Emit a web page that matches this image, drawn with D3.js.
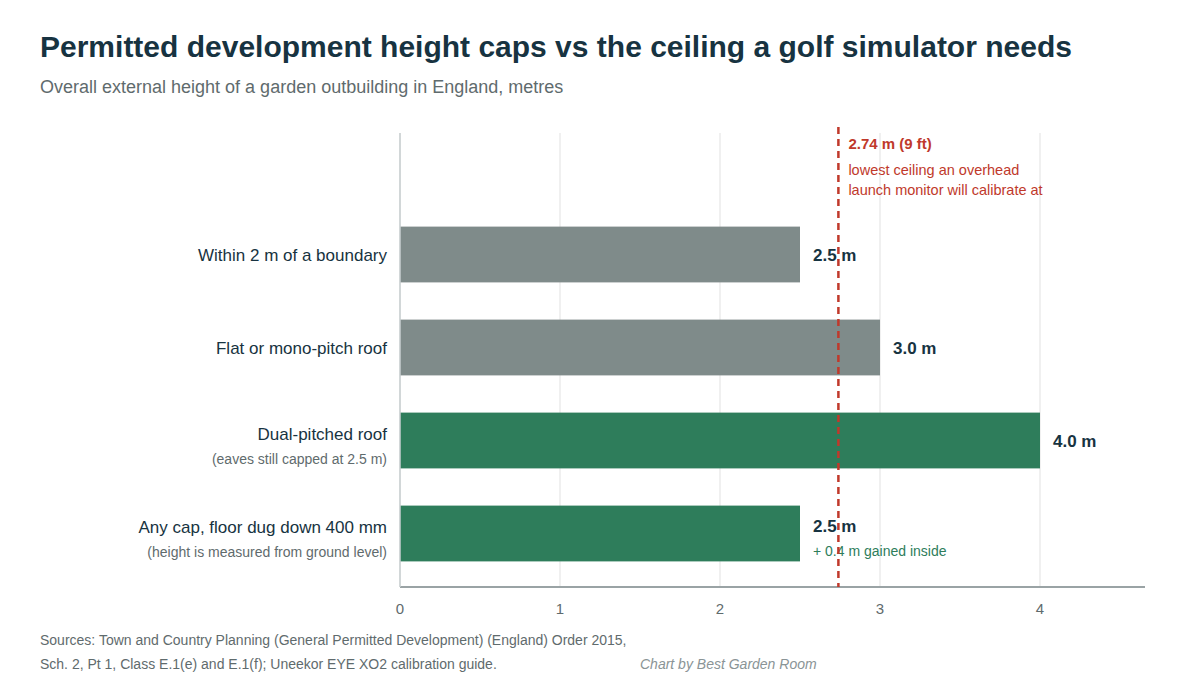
<!DOCTYPE html><html><head><meta charset="utf-8">
<script src="https://cdn.jsdelivr.net/npm/d3@7"></script>
<style>body{margin:0;background:#fff;font-family:"Liberation Sans",Arial,sans-serif}</style></head><body>
<svg id="c" width="1200" height="694"></svg>
<script>
const categories=["Within 2 m of a boundary","Flat or mono-pitch roof","Dual-pitched roof","Any cap, floor dug down 400 mm"];
const subLabels=["","","(eaves still capped at 2.5 m)","(height is measured from ground level)"];
const values=[2.5,3.0,4.0,2.5];
const barColors=["#7f8b8a","#7f8b8a","#2e7d5b","#2e7d5b"];
const valueLabels=["2.5 m","3.0 m","4.0 m","2.5 m"];
const xTicks=[0,1,2,3,4];
const threshold=2.74;
const svg=d3.select("#c");
const x=d3.scaleLinear().domain([0,4]).range([400,1040]);
const y=d3.scaleBand().domain(categories).range([208,580]).paddingInner(0.4).paddingOuter(0.2);
const dark="#173341";
svg.append("text").attr("x",40).attr("y",57).attr("font-size",30).attr("font-weight","bold").attr("fill",dark).text("Permitted development height caps vs the ceiling a golf simulator needs");
svg.append("text").attr("x",40).attr("y",93).attr("font-size",18).attr("fill","#5f6b6d").text("Overall external height of a garden outbuilding in England, metres");
// grid
svg.append("g").selectAll("line").data(xTicks).join("line").attr("x1",d=>x(d)).attr("x2",d=>x(d)).attr("y1",133).attr("y2",587).attr("stroke","#ebebeb").attr("stroke-width",1.5);
// bars
svg.append("g").selectAll("rect").data(values).join("rect").attr("x",x(0)).attr("y",(d,i)=>y(categories[i])).attr("width",d=>x(d)-x(0)).attr("height",y.bandwidth()).attr("fill",(d,i)=>barColors[i]);
// value labels
svg.append("g").selectAll("text").data(values).join("text").attr("x",d=>x(d)+13).attr("y",(d,i)=>y(categories[i])+y.bandwidth()/2+(i==3?-2:6)).attr("font-size",17).attr("font-weight","bold").attr("fill",dark).text((d,i)=>valueLabels[i]);
svg.append("text").attr("x",x(2.5)+13).attr("y",y(categories[3])+y.bandwidth()/2+22).attr("font-size",14).attr("fill","#2e7d5b").text("+ 0.4 m gained inside");
// category labels
categories.forEach((c,i)=>{const cy=y(c)+y.bandwidth()/2;const hasSub=subLabels[i]!=="";
svg.append("text").attr("x",387).attr("y",hasSub?cy-1:cy+6).attr("text-anchor","end").attr("font-size",17).attr("fill",dark).text(c);
if(hasSub)svg.append("text").attr("x",387).attr("y",cy+23).attr("text-anchor","end").attr("font-size",14).attr("fill","#5f6b6d").text(subLabels[i]);});
// axis
svg.append("line").attr("x1",400).attr("x2",1145).attr("y1",587).attr("y2",587).attr("stroke","#9aa3a5").attr("stroke-width",2);
svg.append("line").attr("x1",400).attr("x2",400).attr("y1",133).attr("y2",587).attr("stroke","#c9cfd0").attr("stroke-width",1.5);
svg.append("g").selectAll("text").data(xTicks).join("text").attr("x",d=>x(d)).attr("y",614).attr("text-anchor","middle").attr("font-size",15).attr("fill","#5f6b6d").text(d=>d);
// threshold
svg.append("line").attr("x1",x(threshold)).attr("x2",x(threshold)).attr("y1",127).attr("y2",587).attr("stroke","#c0392b").attr("stroke-width",2.5).attr("stroke-dasharray","7,5");
svg.append("text").attr("x",x(threshold)+10).attr("y",149).attr("font-size",15).attr("font-weight","bold").attr("fill","#c0392b").text("2.74 m (9 ft)");
svg.append("text").attr("x",x(threshold)+10).attr("y",175).attr("font-size",14.5).attr("fill","#c0392b").text("lowest ceiling an overhead");
svg.append("text").attr("x",x(threshold)+10).attr("y",195).attr("font-size",14.5).attr("fill","#c0392b").text("launch monitor will calibrate at");
// footer
svg.append("text").attr("x",40).attr("y",645).attr("font-size",14).attr("fill","#5f6b6d").text("Sources: Town and Country Planning (General Permitted Development) (England) Order 2015,");
svg.append("text").attr("x",40).attr("y",669).attr("font-size",14).attr("fill","#5f6b6d").text("Sch. 2, Pt 1, Class E.1(e) and E.1(f); Uneekor EYE XO2 calibration guide.");
svg.append("text").attr("x",640).attr("y",669).attr("font-size",14).attr("font-style","italic").attr("fill","#8a9496").text("Chart by Best Garden Room");
</script></body></html>
